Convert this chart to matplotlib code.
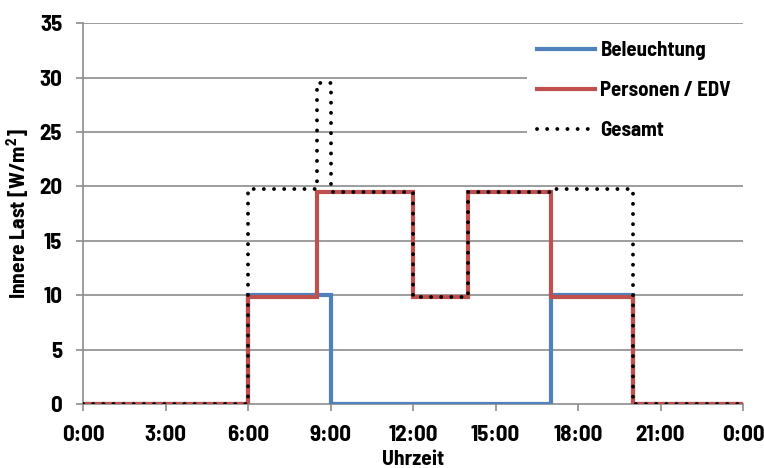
import matplotlib
matplotlib.use("Agg")
import matplotlib.pyplot as plt

plt.rcParams['font.family'] = ['Barlow Semi Condensed', 'DejaVu Sans']
plt.rcParams['font.weight'] = 'bold'
plt.rcParams['mathtext.fontset'] = 'custom'
plt.rcParams['mathtext.bf'] = 'Barlow Semi Condensed:bold'
plt.rcParams['mathtext.rm'] = 'Barlow Semi Condensed:bold'

hours = [0, 6, 8.5, 9, 12, 14, 17, 20, 24]
beleuchtung = [0, 10, 10, 0, 0, 0, 10, 0, 0]
personen = [0, 9.8, 19.5, 19.5, 9.8, 19.5, 9.8, 0, 0]
gesamt = [0, 19.8, 29.5, 19.5, 9.8, 19.5, 19.8, 0, 0]
xtick_pos = [0, 3, 6, 9, 12, 15, 18, 21, 24]
xtick_labels = ["0:00", "3:00", "6:00", "9:00", "12:00", "15:00", "18:00", "21:00", "0:00"]
yticks = [0, 5, 10, 15, 20, 25, 30, 35]

fig = plt.figure(figsize=(7.64, 4.68), dpi=100)
ax = fig.add_axes([83/764, 64/468, 660/764, (404-23.3)/468])

grid_c = "#8c8c8c"
for y in yticks[1:]:
    ax.axhline(y, color=grid_c, lw=1.2, zorder=1)

ax.step(hours, beleuchtung, where='post', color="#4F81BD", lw=3.0,
        label="Beleuchtung", zorder=3, solid_joinstyle='miter')
ax.step(hours, personen, where='post', color="#C0504D", lw=3.0,
        label="Personen / EDV", zorder=4, solid_joinstyle='miter')
ax.step(hours, gesamt, where='post', color="black", lw=2.8,
        linestyle=(0, (0.01, 2.6)), dash_capstyle='round',
        label="Gesamt", zorder=5)

ax.set_xlim(0, 24)
ax.set_ylim(0, 35)
ax.set_xticks(xtick_pos)
ax.set_xticklabels(xtick_labels)
ax.set_yticks(yticks)
ax.tick_params(axis='both', direction='out', length=5, width=1.2, color=grid_c,
               labelsize=16.5)
ax.tick_params(axis='x', pad=10)
ax.tick_params(axis='y', pad=10)
for lab in ax.get_xticklabels() + ax.get_yticklabels():
    lab.set_fontweight('bold')
for s in ['top', 'right']:
    ax.spines[s].set_visible(False)
for s in ['left', 'bottom']:
    ax.spines[s].set_color(grid_c)
    ax.spines[s].set_linewidth(1.2)

ax.set_xlabel("Uhrzeit", fontsize=15.5, fontweight='bold', labelpad=3.5)
ax.set_ylabel("Innere Last [W/m$^{\\mathbf{2}}$]", fontsize=15.5, fontweight='bold', labelpad=6)

leg = ax.legend(loc='upper left', bbox_to_anchor=(0.672, 0.5, 0.328, 0.48), mode='expand',
                borderaxespad=0, frameon=True, fancybox=False, edgecolor='none',
                facecolor='white', framealpha=1, fontsize=15, handlelength=2.8,
                handletextpad=0.25, labelspacing=1.0, borderpad=0.5)
for t in leg.get_texts():
    t.set_fontweight('bold')
leg.set_zorder(10)

fig.savefig("out.png", dpi=100)
